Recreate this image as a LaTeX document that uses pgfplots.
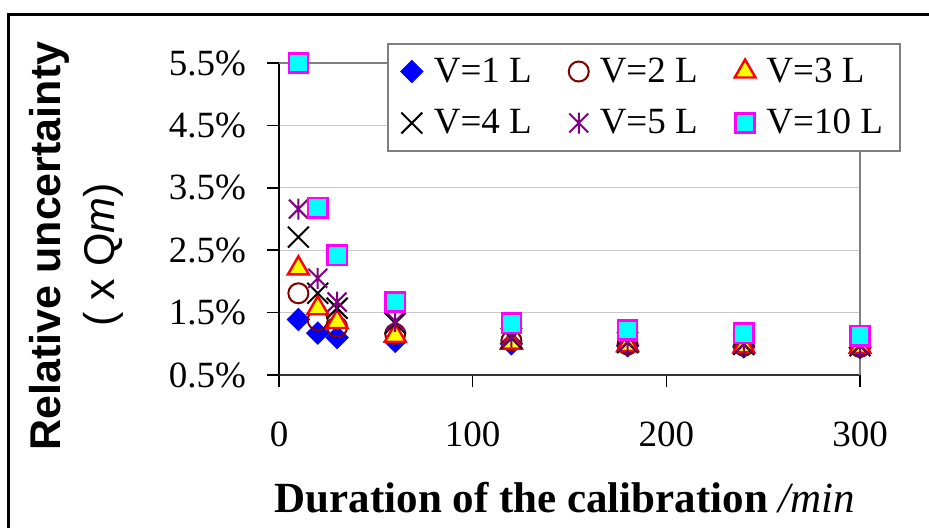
\documentclass[border=0pt]{standalone}
\usepackage{fontspec}
\setmainfont{Liberation Serif}
\setsansfont{Liberation Sans}
\usepackage{pgfplots}
\usepackage{pgfplotstable}
\pgfplotsset{compat=1.18}
\definecolor{cBlue}{RGB}{0,0,255}
\definecolor{cDRed}{RGB}{128,0,0}
\definecolor{cRed}{RGB}{255,0,0}
\definecolor{cYel}{RGB}{255,255,0}
\definecolor{cPur}{RGB}{128,0,128}
\definecolor{cCyan}{RGB}{0,255,255}
\definecolor{cMag}{RGB}{255,0,255}
\definecolor{cGrid}{RGB}{200,200,200}
\definecolor{cBord}{RGB}{128,128,128}
\pgfdeclareplotmark{xstar}{%
  \pgfpathmoveto{\pgfqpoint{0pt}{-\pgfplotmarksize}}%
  \pgfpathlineto{\pgfqpoint{0pt}{\pgfplotmarksize}}%
  \pgfpathmoveto{\pgfqpoint{-.9\pgfplotmarksize}{-.9\pgfplotmarksize}}%
  \pgfpathlineto{\pgfqpoint{.9\pgfplotmarksize}{.9\pgfplotmarksize}}%
  \pgfpathmoveto{\pgfqpoint{-.9\pgfplotmarksize}{.9\pgfplotmarksize}}%
  \pgfpathlineto{\pgfqpoint{.9\pgfplotmarksize}{-.9\pgfplotmarksize}}%
  \pgfusepathqstroke}
\pgfplotstableread{
x    v1   v2   v3   v4   v5   v10
10   1.39 1.81 2.21 2.71 3.16 5.50
20   1.17 1.38 1.57 1.81 2.05 3.18
30   1.10 1.27 1.35 1.57 1.67 2.42
60   1.04 1.16 1.13 1.33 1.36 1.67
120  1.00 1.05 1.02 1.09 1.11 1.33
180  0.97 0.99 0.98 1.02 1.03 1.22
240  0.95 0.97 0.96 0.99 1.00 1.17
300  0.94 0.95 0.95 0.97 0.98 1.13
}\datatable
\begin{document}
\begin{tikzpicture}
\path[use as bounding box] (0,0) rectangle (464.5pt,-263.5pt);
\draw[line width=1.5pt] (4pt,-264pt) -- (4pt,-7pt) -- (465pt,-7pt);
\begin{axis}[
  at={(139.5pt,-187.5pt)}, anchor=south west,
  width=290.5pt, height=156pt, scale only axis,
  xmin=0, xmax=300, ymin=0.5, ymax=5.5,
  xtick={0,100,200,300},
  ytick={0.5,1.5,2.5,3.5,4.5,5.5},
  axis x line*=bottom, axis y line*=left,
  x axis line style={-, line width=1pt, black!80},
  y axis line style={-, line width=1pt, black},
  /pgf/number format/assume math mode=true,
  yticklabel={\pgfmathprintnumber[fixed,fixed zerofill,precision=1,assume math mode=true]{\tick}\%},
  ticklabel style={font=\fontsize{18.5}{20}\selectfont},
  yticklabel style={xshift=-7pt},
  xticklabel style={yshift=-14pt},
  tick align=outside, major tick length=6pt,
  tick style={black, line width=0.75pt},
  ymajorgrids, grid style={cGrid, line width=0.6pt},
  clip=false,
  legend columns=3,
  legend style={at={(0.1859,1.0641)}, anchor=north west,
    draw=cBord, line width=0.75pt, fill=white,
    inner xsep=6.5pt, inner ysep=5pt,
    font=\fontsize{18.5}{20}\selectfont,
    nodes={inner sep=2pt},
    /tikz/every odd column/.append style={column sep=3.5pt},
    /tikz/every even column/.append style={column sep=16.5pt},
    row sep=8pt},
  legend cell align=left,
  legend image code/.code={\draw[#1] plot coordinates {(0pt,0pt)};},
]
\draw[cBord, line width=0.9pt] (rel axis cs:0,1) -- (rel axis cs:1,1) -- (rel axis cs:1,0);
\addplot[only marks, mark=square*, mark size=3.9pt, mark options={rotate=45, draw=cBlue, fill=cBlue, line width=0.5pt}] table[x=x,y=v1]{\datatable};
\addlegendentry{V=1 L}
\addplot[only marks, mark=o, mark size=5pt, mark options={draw=cDRed, line width=1pt}] table[x=x,y=v2]{\datatable};
\addlegendentry{V=2 L}
\addplot[only marks, mark=triangle*, mark size=6pt, mark options={draw=cRed, fill=cYel, line width=1.2pt}] table[x=x,y=v3]{\datatable};
\addlegendentry{V=3 L}
\addplot[only marks, mark=x, mark size=7.4pt, mark options={draw=black, line width=1pt}] table[x=x,y=v4]{\datatable};
\addlegendentry{V=4 L}
\addplot[only marks, mark=xstar, mark size=5.25pt, mark options={draw=cPur, line width=1pt}] table[x=x,y=v5]{\datatable};
\addlegendentry{V=5 L}
\addplot[only marks, mark=square*, mark size=4.8pt, mark options={draw=cMag, fill=cCyan, line width=1.2pt}] table[x=x,y=v10]{\datatable};
\addlegendentry{V=10 L}
\end{axis}
\node[anchor=base, font=\fontsize{21.5}{24}\selectfont] at (282.5pt,-256pt) {\textbf{Duration of the calibration} \textit{/min}};
\node[anchor=base, rotate=90, font=\fontsize{21.5}{24}\selectfont\sffamily\bfseries] at (30pt,-123pt) {Relative uncertainty};
\node[anchor=base, rotate=90, font=\fontsize{21.5}{24}\selectfont\sffamily] at (57pt,-127.5pt) {( x Q\textit{m})};
\end{tikzpicture}
\end{document}
